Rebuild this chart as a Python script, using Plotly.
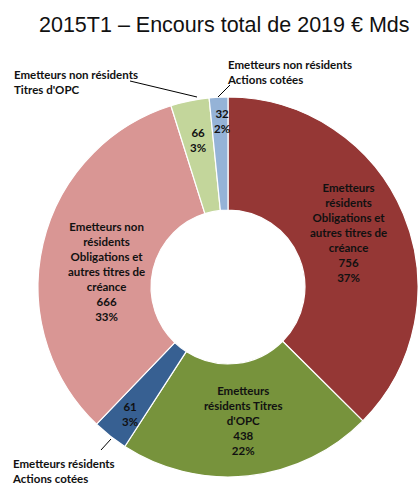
import plotly.graph_objects as go

W, H = 418, 485

# Data
categories = [
    "Emetteurs résidents Obligations et autres titres de créance",
    "Emetteurs résidents Titres d'OPC",
    "Emetteurs résidents Actions cotées",
    "Emetteurs non résidents Obligations et autres titres de créance",
    "Emetteurs non résidents Titres d'OPC",
    "Emetteurs non résidents Actions cotées",
]
values = [756, 438, 61, 666, 66, 32]
percents = ["37%", "22%", "3%", "33%", "3%", "2%"]
inside_names = [
    "Emetteurs<br>résidents<br>Obligations et<br>autres titres de<br>créance",
    "Emetteurs<br>résidents Titres<br>d'OPC",
    "",
    "Emetteurs non<br>résidents<br>Obligations et<br>autres titres de<br>créance",
    "",
    "",
]
outside_names = [
    "",
    "",
    "Emetteurs résidents<br>Actions cotées",
    "",
    "Emetteurs non résidents<br>Titres d'OPC",
    "Emetteurs non résidents<br>Actions cotées",
]
colors = ["#953735", "#77933C", "#376092", "#D99694", "#C3D69B", "#95B3D7"]
title_text = "2015T1 – Encours total de 2019 € Mds"


def px(x):
    return x / W


def py(y):
    return 1 - y / H


fig = go.Figure(
    go.Pie(
        labels=categories,
        values=values,
        sort=False,
        direction="clockwise",
        rotation=0,
        hole=0.405,
        marker=dict(colors=colors, line=dict(color="white", width=1.2)),
        textinfo="none",
        hoverinfo="label+value+percent",
        showlegend=False,
        domain=dict(x=[px(38), px(418)], y=[py(477), py(97)]),
    )
)

lab_font = dict(family="Lato", size=11.5, color="#111111")

# inside labels: (x, y) pixel centers for each slice's text
inside_pos = [(348, 232), (243, 420), (130, 414), (106, 271), (198, 140), (222, 121)]
annotations = []
for i, (x, y) in enumerate(inside_pos):
    parts = [p for p in [inside_names[i], str(values[i]), percents[i]] if p]
    annotations.append(dict(
        x=px(x), y=py(y), xref="paper", yref="paper",
        text="<b>" + "<br>".join(parts) + "</b>",
        showarrow=False, xanchor="center", yanchor="middle",
        align="center", font=lab_font,
    ))

# outside labels
outside_pos = {2: (10, 471), 4: (12, 82), 5: (225, 72)}
for i, (x, y) in outside_pos.items():
    annotations.append(dict(
        x=px(x), y=py(y), xref="paper", yref="paper",
        text="<b>" + outside_names[i] + "</b>",
        showarrow=False, xanchor="left", yanchor="middle",
        align="left", font=lab_font,
    ))

# title
annotations.append(dict(
    x=px(224), y=py(25), xref="paper", yref="paper",
    text=title_text, showarrow=False, xanchor="center", yanchor="middle",
    font=dict(family="Liberation Sans", size=21.5, color="#111111"),
))

# leader lines
leaders = [((130, 81), (197, 97)), ((218, 97), (230, 85)), ((111, 439), (101, 450))]
shapes = []
for (x0, y0), (x1, y1) in leaders:
    shapes.append(dict(
        type="line", xref="paper", yref="paper",
        x0=px(x0), y0=py(y0), x1=px(x1), y1=py(y1),
        line=dict(color="#000000", width=1),
    ))

fig.update_layout(
    width=W, height=H,
    margin=dict(l=0, r=0, t=0, b=0),
    paper_bgcolor="white", plot_bgcolor="white",
    annotations=annotations, shapes=shapes,
)

fig.write_html(
    "out.html",
    config={"displayModeBar": False},
    post_script="document.body.style.margin='0';document.body.style.overflow='hidden';",
)
